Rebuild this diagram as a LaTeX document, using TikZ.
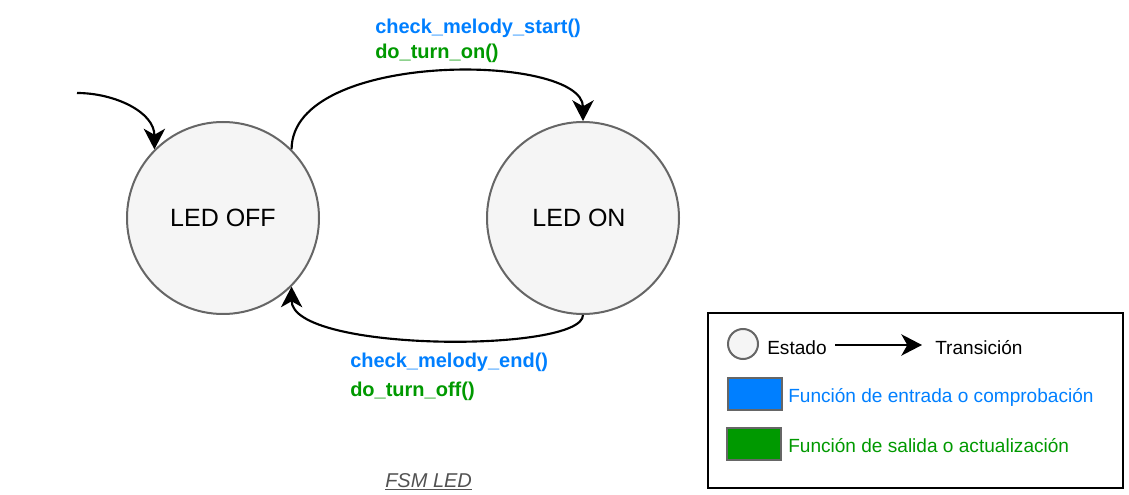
\documentclass[tikz,border=0pt]{standalone}
\usepackage{fontspec}
\setmainfont{Liberation Sans}
\usetikzlibrary{arrows.meta}
\definecolor{entrada}{HTML}{007FFF}
\definecolor{salida}{HTML}{009900}
\definecolor{borde}{HTML}{666666}
\definecolor{relleno}{HTML}{F5F5F5}
\begin{document}
\begin{tikzpicture}[x=0.75pt,y=-0.75pt,
  estado/.style={circle,draw=borde,fill=relleno,line width=1.5pt,
                 minimum size=144pt,inner sep=0pt,
                 font=\fontsize{18.75}{22}\selectfont},
  trans/.style={black,line width=1.6pt,
                -{Stealth[length=15.5pt,width=16pt,inset=4.5pt]}},
  fn/.style={anchor=base west,inner sep=0pt,
             font=\fontsize{15}{18}\selectfont\bfseries},
  ley/.style={anchor=base west,inner sep=0pt,
              font=\fontsize{14.3}{17}\selectfont},
  caja/.style={draw=borde,line width=1.5pt,minimum width=40.5pt,
               minimum height=24pt,inner sep=0pt}]
  \useasboundingbox (0,0) rectangle (1129,495);
  \node[estado] (off1) at (223,218) {LED OFF};
  \node[estado] (on1)  at (583,218) {\hspace*{-6pt}LED ON};
  \coordinate   (ini)  at (77,93);
  \draw[trans] (ini) to[out=0,in=90] (off1.135);
  \draw[trans] (off1.45) .. controls +(0,-100) and +(0,-68) .. (on1.north);
  \draw[trans] (on1.south) .. controls +(0,38) and +(0,66) .. (off1.-45);
  \node[fn,text=entrada] (f1) at (375,34)  {check\_melody\_start()};
  \node[fn,text=salida]  (g1) at (375,59)  {do\_turn\_on()};
  \node[fn,text=entrada] (f2) at (350,368) {check\_melody\_end()};
  \node[fn,text=salida]  (g2) at (350,397) {do\_turn\_off()};
  \node[anchor=base west,inner sep=0pt,text=borde!80!black,
        font=\fontsize{15}{17}\selectfont\itshape] (titulo) at (385,487)
        {\underline{FSM LED}};
  % leyenda
  \draw[line width=1.5pt] (708,313) rectangle (1123,488);
  \node[circle,draw=borde,fill=relleno,line width=1.5pt,minimum size=22.5pt,
        inner sep=0pt] (l1) at (743,344) {};
  \node[ley] (l2) at (767,355) {Estado};
  \coordinate (la) at (835,345);
  \coordinate (lb) at (922,345);
  \draw[trans] (la) -- (lb);
  \node[ley] (l3) at (935,355) {Transición};
  \node[caja,fill=entrada] (l4) at (755,394) {};
  \node[ley,text=entrada]  (l5) at (788,403) {Función de entrada o comprobación};
  \node[caja,fill=salida]  (l6) at (754,444) {};
  \node[ley,text=salida]   (l7) at (788,452) {Función de salida o actualización};
\end{tikzpicture}
\end{document}
